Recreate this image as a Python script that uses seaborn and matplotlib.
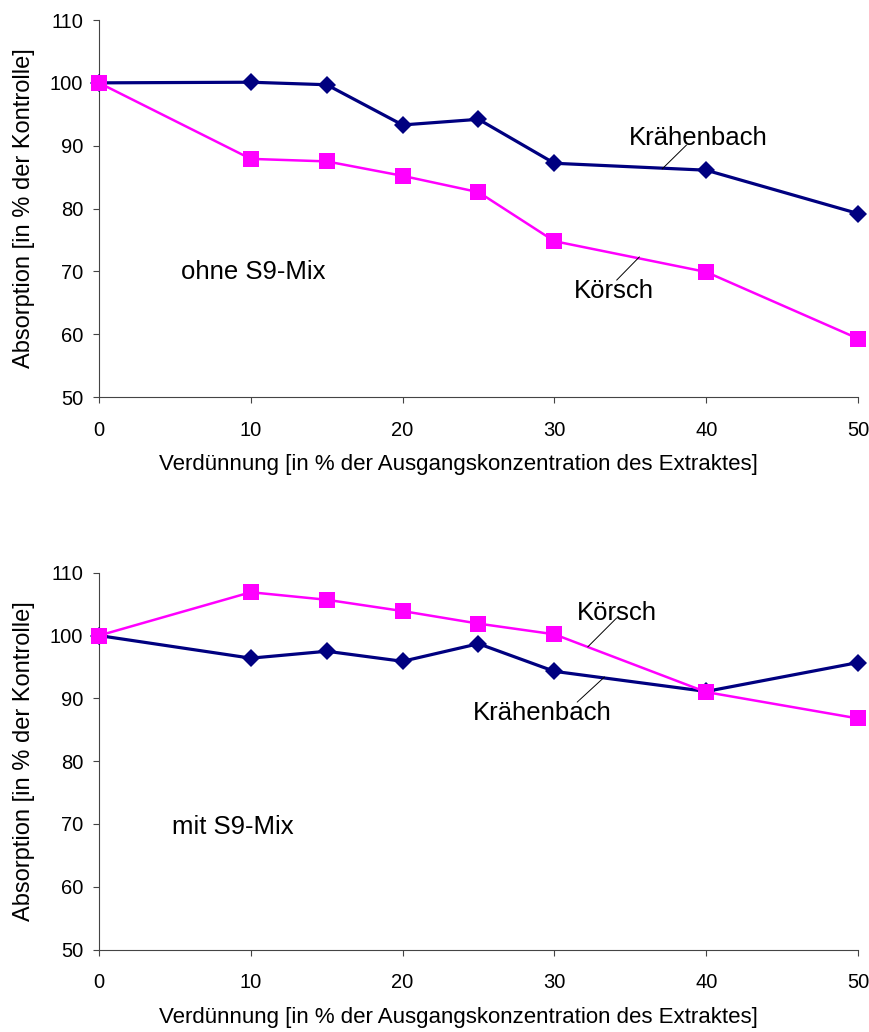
import seaborn as sns
import pandas as pd
import numpy as np
import matplotlib
matplotlib.use('Agg')
import matplotlib.pyplot as plt

# Verdünnung [% der Ausgangskonzentration]
verduennung = [0, 10, 15, 20, 25, 30, 40, 50]

# ohne S9-Mix
kraehenbach_ohne = [100.0, 100.1, 99.7, 93.3, 94.2, 87.2, 86.1, 79.2]
koersch_ohne = [100.0, 87.9, 87.5, 85.2, 82.6, 74.8, 69.9, 59.3]

# mit S9-Mix
kraehenbach_mit = [100.0, 96.4, 97.5, 95.9, 98.7, 94.3, 91.1, 95.7]
koersch_mit = [100.0, 106.9, 105.7, 103.9, 101.9, 100.2, 91.0, 86.8]

y_ticks = [50, 60, 70, 80, 90, 100, 110]
x_ticks = [0, 10, 20, 30, 40, 50]

sns.set_style('ticks')
plt.rcParams['font.family'] = ['Liberation Sans', 'DejaVu Sans']
plt.rcParams['text.color'] = 'black'
plt.rcParams['axes.labelcolor'] = 'black'
plt.rcParams['xtick.labelcolor'] = 'black'
plt.rcParams['ytick.labelcolor'] = 'black'

NAVY = '#000080'
MAGENTA = '#FF00FF'

fig = plt.figure(figsize=(8.7, 10.32), dpi=100)
ax1 = fig.add_axes([0.1138, 0.6153, 0.8724, 0.3653])
ax2 = fig.add_axes([0.1138, 0.0799, 0.8724, 0.3651])


def panel(ax, kr, ko, label, label_pos, kr_text, kr_line, ko_text, ko_line):
    dk = pd.DataFrame({'x': verduennung, 'y': kr})
    do = pd.DataFrame({'x': verduennung, 'y': ko})
    sns.lineplot(data=dk, x='x', y='y', ax=ax, color=NAVY, lw=2.3,
                 marker='D', markersize=9.5, markeredgewidth=0, zorder=3,
                 clip_on=False)
    sns.lineplot(data=do, x='x', y='y', ax=ax, color=MAGENTA, lw=1.8,
                 marker='s', markersize=12, markeredgewidth=0, zorder=4,
                 clip_on=False)
    ax.set_xlim(0, 50)
    ax.set_ylim(50, 110)
    ax.set_xticks(x_ticks)
    ax.set_yticks(y_ticks)
    ax.tick_params(labelsize=14.5, length=4.5, width=0.8, color='#444444')
    ax.tick_params(axis='x', pad=12.5)
    ax.tick_params(axis='y', pad=7)
    for s in ['top', 'right']:
        ax.spines[s].set_visible(False)
    for s in ['left', 'bottom']:
        ax.spines[s].set_color('#444444')
        ax.spines[s].set_linewidth(0.8)
    ax.set_xlabel('Verdünnung [in % der Ausgangskonzentration des Extraktes]',
                  fontsize=16)
    ax.xaxis.set_label_coords(0.474, -0.152)
    ax.set_ylabel('Absorption [in % der Kontrolle]', fontsize=17)
    ax.yaxis.set_label_coords(-0.084, 0.5)
    ax.text(label_pos[0], label_pos[1], label, fontsize=18.5, va='baseline', ha='left')
    ax.text(kr_text[0], kr_text[1], 'Krähenbach', fontsize=18.5, va='baseline', ha='center')
    ax.plot(kr_line[0], kr_line[1], color='black', lw=0.7, zorder=5)
    ax.text(ko_text[0], ko_text[1], 'Körsch', fontsize=18.5, va='baseline', ha='center')
    ax.plot(ko_line[0], ko_line[1], color='black', lw=0.7, zorder=5)


panel(ax1, kraehenbach_ohne, koersch_ohne, 'ohne S9-Mix', (5.4, 68.8),
      (39.5, 90.1), ([38.7, 37.1], [90.1, 86.3]),
      (33.9, 65.8), ([35.6, 34.1], [72.3, 68.6]))
panel(ax2, kraehenbach_mit, koersch_mit, 'mit S9-Mix', (4.8, 68.4),
      (29.2, 86.5), ([31.5, 33.3], [89.4, 93.4]),
      (34.1, 102.5), ([34.1, 32.2], [102.8, 98.2]))

plt.savefig('out.png', dpi=100)
